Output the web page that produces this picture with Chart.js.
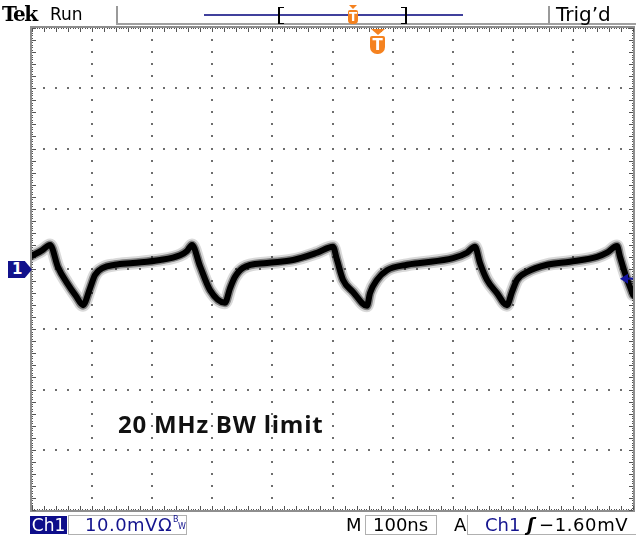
<!DOCTYPE html>
<html>
<head>
<meta charset="utf-8">
<script src="https://cdn.jsdelivr.net/npm/chart.js@4/dist/chart.umd.min.js"></script>
<style>
  html, body { margin: 0; padding: 0; background: #fff; }
  #wrap { position: relative; width: 636px; height: 539px; overflow: hidden; background: #fff; }
  #c { position: absolute; left: 0; top: 0; }
  .t { position: absolute; white-space: nowrap; font-family: "DejaVu Sans", sans-serif; }
  .ln { position: absolute; }
</style>
</head>
<body>
<div id="wrap">
  <canvas id="c" width="636" height="539"></canvas>

  <!-- top status bar -->
  <div class="t" style="left:2px;top:4px;font-family:'DejaVu Serif',serif;font-weight:bold;font-size:20px;line-height:20px;letter-spacing:-1.5px;color:#000;">Tek</div>
  <div class="t" style="left:50px;top:6px;font-size:17px;line-height:17px;color:#000;">Run</div>
  <div class="ln" style="left:116px;top:6px;width:2px;height:19px;background:#9a9a9a;"></div>
  <div class="ln" style="left:116px;top:23px;width:520px;height:2px;background:#a0a0a0;"></div>
  <div class="ln" style="left:204px;top:14px;width:259px;height:2px;background:#40409c;"></div>
  <div class="ln" style="left:278px;top:7px;width:4px;height:15px;border-left:2px solid #000;border-top:1px solid #000;border-bottom:1px solid #000;"></div>
  <div class="ln" style="left:401px;top:7px;width:4px;height:15px;border-right:2px solid #000;border-top:1px solid #000;border-bottom:1px solid #000;"></div>
  <div class="ln" style="left:349px;top:5px;width:0;height:0;border-left:4px solid transparent;border-right:4px solid transparent;border-top:4px solid #f5821f;"></div>
  <div class="t" style="left:348px;top:10px;width:10px;height:14px;background:#f5821f;border-radius:2px 2px 4px 4px;color:#fff;font-weight:bold;font-size:12px;line-height:14px;text-align:center;">T</div>
  <div class="ln" style="left:548px;top:6px;width:2px;height:19px;background:#9a9a9a;"></div>
  <div class="t" style="left:556px;top:4px;font-size:20px;line-height:20px;color:#000;">Trig’d</div>

  <!-- trigger position marker below top border -->
  <div class="ln" style="left:371px;top:29px;width:0;height:0;border-left:7px solid transparent;border-right:7px solid transparent;border-top:6px solid #f5821f;"></div>
  <div class="t" style="left:370px;top:36px;width:15px;height:18px;background:#f5821f;border-radius:2px 2px 7px 7px;color:#fff;font-weight:bold;font-size:15px;line-height:18px;text-align:center;">T</div>

  <!-- channel 1 ground marker -->
  <div class="t" style="left:8px;top:261px;width:24px;height:17px;background:#12128c;clip-path:polygon(0 0,70% 0,100% 50%,70% 100%,0 100%);color:#fff;font-weight:bold;font-size:15px;line-height:17px;text-indent:4px;">1</div>

  <!-- annotation -->
  <div class="t" style="left:118px;top:412px;font-family:'Open Sans',sans-serif;font-weight:bold;font-size:24px;line-height:24px;letter-spacing:0.75px;color:#111;">20 MHz BW limit</div>

  <!-- bottom status bar -->
  <div class="t" style="left:30px;top:516px;width:37px;height:18px;background:#0d0d8a;color:#fff;font-size:17px;line-height:18px;text-align:center;">Ch1</div>
  <div class="ln" style="left:68px;top:515px;width:117px;height:18px;border:1px solid #b0b0b0;"></div>
  <div class="t" style="left:85px;top:516px;font-size:18px;line-height:18px;letter-spacing:0.5px;color:#14148e;">10.0mVΩ</div>
  <div class="t" style="left:173px;top:516px;font-size:8px;line-height:8px;color:#14148e;">B</div>
  <div class="t" style="left:178px;top:523px;font-size:8px;line-height:8px;color:#14148e;">W</div>
  <div class="t" style="left:346px;top:516px;font-size:18px;line-height:18px;color:#000;">M</div>
  <div class="ln" style="left:365px;top:515px;width:70px;height:18px;border:1px solid #b0b0b0;"></div>
  <div class="t" style="left:373px;top:516px;font-size:18px;line-height:18px;color:#000;">100ns</div>
  <div class="t" style="left:454px;top:516px;font-size:18px;line-height:18px;color:#000;">A</div>
  <div class="ln" style="left:467px;top:515px;width:170px;height:19px;border-left:1px solid #b0b0b0;border-bottom:1px solid #b0b0b0;"></div>
  <div class="t" style="left:485px;top:516px;font-size:18px;line-height:18px;color:#14148e;">Ch1</div>
  <div class="t" style="left:527px;top:516px;font-size:18px;line-height:18px;font-style:italic;font-weight:bold;color:#000;">ʃ</div>
  <div class="t" style="left:539px;top:516px;font-size:18px;line-height:18px;letter-spacing:0.6px;color:#000;">−1.60mV</div>
</div>

<script>
// Time axis: 100 ns/div, 10 divisions; vertical: 10.0 mV/div, 8 divisions
const xTicksNs = [0, 100, 200, 300, 400, 500, 600, 700, 800, 900, 1000];
const yTicksMv = [-40, -30, -20, -10, 0, 10, 20, 30, 40];
const triggerLevelMv = -1.6;

// Trace samples (time in ns, voltage in mV)
const timeNs = [0, 16.6, 30.0, 43.3, 58.2, 73.2, 84.9, 96.5, 104.8, 118.1, 138.1, 168.1, 213.0, 246.3, 257.9, 266.2,
  279.5, 296.2, 321.1, 329.5, 337.8, 351.1, 391.0, 434.3, 474.2, 500.8,
  507.5, 517.5, 534.1, 557.4, 562.4, 574.0, 590.7, 624.0, 645.6, 700.5, 723.8, 737.1,
  745.4, 757.1, 773.7, 790.3, 798.7, 807.0, 823.6, 856.9, 895.2, 940.1, 956.7, 973.4,
  978.4, 986.7, 995.0, 1000];
const voltageMv = [2.2, 3.1, 4.0, 0.3, -2.3, -4.5, -6.0, -3.2, -1.0, 0.2, 0.7, 1.0, 1.5, 2.3, 3.0, 4.0,
  0.5, -3.5, -5.6, -3.2, -1.3, 0.2, 1.0, 1.5, 2.7, 3.7,
  1.5, -1.8, -3.8, -6.1, -4.0, -1.8, -0.2, 0.7, 1.0, 1.8, 2.7, 3.7,
  1.0, -1.8, -4.0, -6.0, -3.8, -1.8, -0.5, 0.7, 1.2, 2.0, 2.7, 3.8,
  2.0, -0.7, -3.0, -4.3];

const points = timeNs.map((t, i) => ({ x: t, y: voltageMv[i] }));

const graticule = {
  id: 'graticule',
  beforeDatasetsDraw(chart) {
    const { ctx, chartArea: a, scales: { x, y } } = chart;
    ctx.save();
    const xMin = xTicksNs[0], xMax = xTicksNs[xTicksNs.length - 1];
    const yMin = yTicksMv[0], yMax = yTicksMv[yTicksMv.length - 1];
    const xStep = (xTicksNs[1] - xTicksNs[0]) / 5;
    const yStep = (yTicksMv[1] - yTicksMv[0]) / 5;
    ctx.fillStyle = '#6e6e6e';
    for (let i = 1; i < xTicksNs.length - 1; i++) {
      const px = Math.round(x.getPixelForValue(xTicksNs[i]));
      for (let v = yMin + yStep; v < yMax - 1e-6; v += yStep) {
        const py = Math.round(y.getPixelForValue(v));
        ctx.fillRect(px - 1, py - 1, 2, 2);
      }
    }
    for (let j = 1; j < yTicksMv.length - 1; j++) {
      const py = Math.round(y.getPixelForValue(yTicksMv[j]));
      for (let t = xMin + xStep; t < xMax - 1e-6; t += xStep) {
        const px = Math.round(x.getPixelForValue(t));
        ctx.fillRect(px - 1, py - 1, 2, 2);
      }
    }
    // frame
    ctx.strokeStyle = '#8e8e8e';
    ctx.lineWidth = 2;
    ctx.strokeRect(a.left - 1, a.top - 1, a.right - a.left + 2, a.bottom - a.top + 2);
    ctx.fillStyle = '#555';
    const fineX = xStep / 5, fineY = yStep / 5;
    for (let t = xMin; t <= xMax + 1e-6; t += fineX) {
      const px = Math.round(x.getPixelForValue(t));
      ctx.fillRect(px, a.top, 1, 1);
      ctx.fillRect(px, a.bottom - 1, 1, 1);
    }
    for (let v = yMin; v <= yMax + 1e-6; v += fineY) {
      const py = Math.round(y.getPixelForValue(v));
      ctx.fillRect(a.left, py, 1, 1);
      ctx.fillRect(a.right - 1, py, 1, 1);
    }
    for (let t = xMin; t <= xMax + 1e-6; t += xStep) {
      const px = Math.round(x.getPixelForValue(t));
      ctx.fillRect(px, a.top, 1, 4);
      ctx.fillRect(px, a.bottom - 4, 1, 4);
    }
    for (let v = yMin; v <= yMax + 1e-6; v += yStep) {
      const py = Math.round(y.getPixelForValue(v));
      ctx.fillRect(a.left, py, 4, 1);
      ctx.fillRect(a.right - 4, py, 4, 1);
    }
    ctx.restore();
  },
  afterDatasetsDraw(chart) {
    const { ctx, chartArea: a, scales: { y } } = chart;
    const py = y.getPixelForValue(triggerLevelMv);
    ctx.save();
    ctx.fillStyle = '#1414a0';
    ctx.beginPath();
    ctx.moveTo(a.right - 13, py);
    ctx.lineTo(a.right - 5, py - 5);
    ctx.lineTo(a.right - 5, py + 5);
    ctx.closePath();
    ctx.fill();
    ctx.fillRect(a.right - 6, py - 1, 6, 2);
    ctx.restore();
  }
};

const common = { showLine: true, pointRadius: 0, borderJoinStyle: 'round', borderCapStyle: 'round',
  cubicInterpolationMode: 'monotone' };

new Chart(document.getElementById('c'), {
  type: 'scatter',
  data: {
    datasets: [
      Object.assign({ data: points, borderColor: '#000', borderWidth: 6, order: 0 }, common),
      Object.assign({ data: points, borderColor: 'rgba(0,0,0,0.4)', borderWidth: 9, order: 1 }, common),
      Object.assign({ data: points, borderColor: 'rgba(0,0,0,0.15)', borderWidth: 13, order: 2 }, common)
    ]
  },
  options: {
    responsive: false,
    animation: false,
    devicePixelRatio: 1,
    layout: { padding: { left: 32, top: 28, right: 3, bottom: 29 } },
    plugins: { legend: { display: false }, tooltip: { enabled: false } },
    scales: {
      x: { type: 'linear', min: xTicksNs[0], max: xTicksNs[xTicksNs.length - 1], display: false },
      y: { type: 'linear', min: yTicksMv[0], max: yTicksMv[yTicksMv.length - 1], display: false }
    }
  },
  plugins: [graticule]
});
</script>
</body>
</html>
